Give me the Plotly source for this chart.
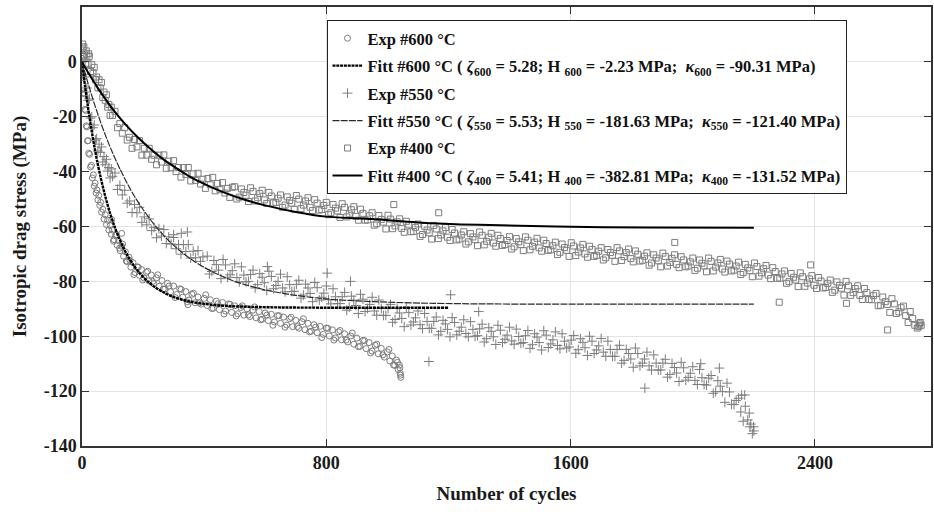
import plotly.graph_objects as go

# ---------------- data ----------------
cycles_600 = [
    0, 2, 4, 6, 8, 10, 12, 14, 16, 18,
    20, 22, 25, 28, 31, 34, 37, 40, 43, 46,
    49, 52, 55, 58, 61, 64, 68, 72, 76, 80,
    84, 88, 92, 96, 100, 105, 110, 115, 120, 125,
    130, 136, 142, 148, 154, 160, 167, 174, 181, 188,
    195, 203, 211, 219, 227, 235, 244, 253, 262, 271,
    280, 290, 300, 310, 320, 330, 340, 350, 360, 370,
    380, 390, 400, 410, 420, 430, 440, 450, 460, 470,
    480, 490, 500, 510, 520, 530, 540, 550, 560, 570,
    580, 590, 600, 610, 620, 630, 640, 650, 660, 670,
    680, 690, 700, 710, 720, 730, 740, 750, 760, 770,
    780, 790, 800, 810, 820, 830, 840, 850, 860, 870,
    880, 890, 900, 910, 920, 930, 940, 950, 960, 970,
    980, 990, 1000, 1008, 1016, 1024, 1030, 1035, 1039, 1042,
    1044, 97, 130, 347, 1043, 1041,
    103, 113, 123, 133, 145, 157, 170, 184, 199, 215,
    231, 248, 266, 285, 305, 325, 345, 365, 385, 405,
    425, 445, 465, 485, 505, 525, 545, 565, 585, 605,
    625, 645, 665, 685, 705, 725, 745, 765, 785, 805,
    825, 845, 865, 885, 905, 925, 945, 965, 985, 1005,
    1020, 1033,
]
stress_600 = [
    1.3, -4.8, -5.7, -11.3, -11.7, -17.3, -17.7, -23.3, -23.7, -28.8,
    -28.7, -33.3, -33.7, -38.3, -37.7, -42.3, -41.2, -45.3, -44.2, -47.8,
    -46.7, -50.3, -48.7, -52.3, -51.2, -54.8, -53.7, -57.3, -55.7, -59.3,
    -57.7, -61.3, -59.7, -62.8, -61.2, -64.8, -63.2, -66.8, -65.2, -68.8,
    -67.2, -70.8, -69.2, -72.8, -71.2, -74.8, -73.2, -76.8, -74.7, -77.8,
    -75.7, -78.8, -76.7, -79.8, -77.7, -80.8, -78.7, -81.8, -79.7, -82.8,
    -80.7, -83.8, -81.7, -84.8, -82.7, -85.8, -83.7, -86.8, -84.7, -87.8,
    -85.7, -88.3, -86.2, -88.8, -86.7, -89.8, -87.2, -90.3, -87.7, -90.8,
    -88.2, -91.3, -88.9, -91.8, -89.5, -92.3, -90.0, -92.8, -90.5, -93.3,
    -91.0, -93.8, -91.5, -94.3, -92.0, -94.8, -92.5, -95.3, -93.0, -95.9,
    -93.6, -96.5, -94.2, -97.1, -94.7, -97.6, -95.3, -98.2, -95.8, -98.7,
    -96.4, -99.3, -97.0, -99.9, -97.7, -100.6, -98.4, -101.3, -99.1, -102.1,
    -99.9, -102.9, -100.7, -103.7, -101.5, -104.5, -102.3, -105.4, -103.3, -106.4,
    -104.4, -107.6, -105.7, -109.0, -107.2, -110.6, -108.7, -112.1, -110.5, -113.5,
    -115.0, -57.5, -62.5, -88.5, -114.2, -111.5,
    -65.3, -63.1, -67.9, -66.4, -72.6, -72.4, -77.5, -74.8, -79.5, -76.3,
    -80.1, -77.6, -82.8, -81.7, -85.9, -82.9, -87.5, -84.3, -87.8, -84.9,
    -89.9, -88.2, -91.9, -88.4, -92.6, -88.9, -92.2, -89.3, -94.0, -92.3,
    -96.0, -92.5, -96.7, -93.1, -96.5, -93.6, -98.4, -96.7, -100.5, -97.1,
    -101.4, -97.9, -101.4, -98.8, -103.8, -101.6, -106.1, -102.9, -106.8, -104.8,
    -110.5, -109.5,
]

cycles_550 = [
    0, 4, 8, 12, 16, 20, 24, 28, 32, 36,
    40, 44, 48, 52, 56, 60, 64, 68, 72, 76,
    80, 84, 88, 92, 96, 100, 108, 116, 124, 132,
    140, 148, 156, 164, 172, 180, 188, 196, 204, 212,
    220, 228, 236, 244, 252, 260, 268, 276, 284, 292,
    300, 308, 316, 324, 332, 340, 348, 356, 364, 372,
    380, 388, 396,
    410, 425, 440, 455, 470, 485, 500, 515, 530, 545,
    560, 575, 590, 605, 620, 635, 650, 665, 680, 695,
    710, 725, 740, 755, 770, 785, 800, 815, 830, 845,
    860, 875, 890, 905, 920, 935, 950, 965, 980, 995,
    1010, 1025, 1040, 1055, 1070, 1085, 1100, 1115, 1130, 1145,
    1160, 1175, 1190, 1205, 1220, 1235, 1250, 1265, 1280, 1295,
    1310, 1325, 1340, 1355, 1370, 1385, 1400, 1415, 1430, 1445,
    1460, 1475, 1490, 1505, 1520, 1535, 1550, 1565, 1580, 1595,
    1610, 1625, 1640, 1655, 1670, 1685, 1700, 1715, 1730, 1745,
    1760, 1775, 1790, 1805, 1820, 1835, 1850, 1865, 1880, 1895,
    1910, 1925, 1940, 1955, 1970, 1985, 2000, 2015, 2030, 2045,
    2060, 2075, 2090, 2105, 2120, 2135, 2150, 2165, 2180, 2195,
    2190, 2200, 2185, 2160, 2170, 1207, 1299, 1136, 1843, 803,
    607, 879, 2087, 2026, 325, 345, 300,
    417, 432, 447, 462, 477, 492, 507, 522, 537, 552,
    567, 582, 597, 612, 627, 642, 657, 672, 687, 702,
    717, 732, 747, 762, 777, 792, 807, 822, 837, 852,
    867, 882, 897, 912, 927, 942, 957, 972, 987, 1002,
    1017, 1032, 1047, 1062, 1077, 1092, 1107, 1122, 1137, 1152,
    1167, 1182, 1197, 1212, 1227, 1242, 1257, 1272, 1287, 1302,
    1317, 1332, 1347, 1362, 1377, 1392, 1407, 1422, 1437, 1452,
    1467, 1482, 1497, 1512, 1527, 1542, 1557, 1572, 1587, 1602,
    1617, 1632, 1647, 1662, 1677, 1692, 1707, 1722, 1737, 1752,
    1767, 1782, 1797, 1812, 1827, 1842, 1857, 1872, 1887, 1902,
    1917, 1932, 1947, 1962, 1977, 1992, 2007, 2022, 2037, 2052,
    2067, 2082, 2097, 2112, 2127, 2142, 2157, 2172, 2187, 2199,
]
stress_550 = [
    0.0, -4.5, -5.5, -11.0, -9.5, -14.0, -13.5, -20.5, -20.0, -24.0,
    -23.0, -28.5, -28.0, -32.5, -30.0, -33.0, -31.0, -36.5, -34.5, -37.5,
    -35.5, -39.8, -38.5, -42.3, -39.0, -41.7, -40.5, -46.5, -45.0, -48.5,
    -46.8, -51.5, -50.7, -54.9, -52.0, -55.0, -53.0, -58.5, -56.5, -59.4,
    -57.2, -61.5, -60.3, -64.1, -60.8, -63.5, -61.1, -66.2, -63.8, -66.4,
    -64.0, -68.1, -66.6, -70.1, -66.6, -69.1, -66.6, -71.5, -69.0, -71.4,
    -68.8, -72.7, -71.1,
    -70.8, -76.4, -73.9, -79.0, -74.0, -77.6, -73.6, -80.2, -77.7, -80.0,
    -75.9, -81.2, -78.5, -83.3, -78.2, -81.5, -77.4, -83.8, -81.2, -83.6,
    -79.6, -85.0, -82.4, -87.4, -82.3, -85.8, -81.7, -88.2, -85.6, -88.1,
    -84.0, -89.4, -86.8, -91.7, -86.5, -89.9, -85.8, -92.3, -89.9, -92.4,
    -88.4, -93.9, -91.5, -96.5, -91.4, -94.8, -90.8, -97.2, -94.6, -97.1,
    -93.0, -98.2, -95.5, -100.2, -95.0, -98.2, -94.0, -100.2, -97.5, -99.8,
    -95.6, -100.9, -98.2, -103.0, -97.8, -101.1, -96.7, -102.9, -100.1, -102.3,
    -97.9, -103.1, -100.3, -105.0, -99.6, -102.8, -98.4, -104.6, -101.8, -103.9,
    -99.7, -104.9, -102.2, -107.0, -101.8, -105.0, -100.8, -107.3, -104.8, -107.3,
    -103.3, -108.8, -106.3, -111.3, -106.3, -109.8, -105.8, -112.3, -109.8, -112.3,
    -108.4, -113.9, -111.4, -116.5, -111.5, -115.0, -111.1, -117.6, -115.1, -117.8,
    -114.3, -120.2, -118.2, -124.1, -120.3, -124.9, -122.6, -131.0, -130.5, -135.5,
    -132.0, -134.5, -128.0, -121.5, -121.4, -84.9, -91.0, -109.2, -118.9, -77.0,
    -74.6, -80.0, -111.6, -110.0, -62.5, -62.0, -63.0,
    -77.3, -72.4, -75.9, -72.0, -78.5, -76.1, -78.6, -74.7, -80.2, -77.5,
    -82.4, -77.2, -80.5, -76.3, -82.7, -80.0, -82.4, -78.3, -83.7, -81.1,
    -86.1, -81.0, -84.4, -80.4, -86.8, -84.3, -86.7, -82.7, -88.1, -85.6,
    -90.5, -85.4, -88.8, -84.7, -91.0, -88.4, -90.8, -86.8, -92.4, -89.9,
    -94.9, -89.9, -93.5, -89.5, -95.9, -93.3, -95.8, -91.7, -97.1, -94.6,
    -99.5, -94.2, -97.5, -93.2, -99.5, -96.7, -99.0, -94.7, -100.0, -97.3,
    -102.1, -96.9, -100.2, -96.0, -102.3, -99.6, -101.7, -97.4, -102.6, -99.8,
    -104.4, -99.1, -102.3, -98.0, -104.1, -101.3, -103.4, -99.1, -104.3, -101.4,
    -106.2, -100.9, -104.2, -100.0, -106.3, -103.5, -105.8, -101.8, -107.3, -104.8,
    -109.8, -104.8, -108.3, -104.3, -110.8, -108.3, -110.8, -106.8, -112.3, -109.8,
    -114.9, -109.9, -113.4, -109.5, -116.0, -113.5, -116.1, -112.1, -117.6, -115.3,
    -120.8, -116.2, -120.2, -117.1, -124.8, -123.4, -127.6, -125.5, -133.0, -133.0,
]

cycles_400 = [
    0, 4, 8, 12, 16, 20, 24, 28, 32, 36,
    40, 44, 48, 52, 56, 60, 64, 68, 72, 76,
    80, 84, 88, 92, 96, 100, 108, 116, 124, 132,
    140, 148, 156, 164, 172, 180, 188, 196, 204, 212,
    220, 228, 236, 244, 252, 260, 268, 276, 284, 292,
    300, 308, 316, 324, 332, 340, 348, 356, 364, 372,
    380, 388, 396, 404, 412, 420, 428, 436, 444, 452,
    460, 468, 476, 484, 492,
    500, 515, 530, 545, 560, 575, 590, 605, 620, 635,
    650, 665, 680, 695, 710, 725, 740, 755, 770, 785,
    800, 815, 830, 845, 860, 875, 890, 905, 920, 935,
    950, 965, 980, 995, 1010, 1025, 1040, 1055, 1070, 1085,
    1100, 1115, 1130, 1145, 1160, 1175, 1190, 1205, 1220, 1235,
    1250, 1265, 1280, 1295, 1310, 1325, 1340, 1355, 1370, 1385,
    1400, 1415, 1430, 1445, 1460, 1475, 1490, 1505, 1520, 1535,
    1550, 1565, 1580, 1595, 1610, 1625, 1640, 1655, 1670, 1685,
    1700, 1715, 1730, 1745, 1760, 1775, 1790, 1805, 1820, 1835,
    1850, 1865, 1880, 1895, 1910, 1925, 1940, 1955, 1970, 1985,
    2000, 2015, 2030, 2045, 2060, 2075, 2090, 2105, 2120, 2135,
    2150, 2165, 2180, 2195, 2210, 2225, 2240, 2255, 2270, 2285,
    2300, 2315, 2330, 2345, 2360, 2375, 2390, 2405, 2420, 2435,
    2450, 2465, 2480, 2495, 2510, 2525, 2540, 2555, 2570, 2585,
    2600, 2615, 2630, 2645, 2660, 2675, 2690, 2705, 2720, 2735,
    2745,
    2, 6, 14, 22, 2740, 2748, 1021, 1168, 1941, 2283,
    2503, 2638, 2386,
    507, 522, 537, 552, 567, 582, 597, 612, 627, 642,
    657, 672, 687, 702, 717, 732, 747, 762, 777, 792,
    807, 822, 837, 852, 867, 882, 897, 912, 927, 942,
    957, 972, 987, 1002, 1017, 1032, 1047, 1062, 1077, 1092,
    1107, 1122, 1137, 1152, 1167, 1182, 1197, 1212, 1227, 1242,
    1257, 1272, 1287, 1302, 1317, 1332, 1347, 1362, 1377, 1392,
    1407, 1422, 1437, 1452, 1467, 1482, 1497, 1512, 1527, 1542,
    1557, 1572, 1587, 1602, 1617, 1632, 1647, 1662, 1677, 1692,
    1707, 1722, 1737, 1752, 1767, 1782, 1797, 1812, 1827, 1842,
    1857, 1872, 1887, 1902, 1917, 1932, 1947, 1962, 1977, 1992,
    2007, 2022, 2037, 2052, 2067, 2082, 2097, 2112, 2127, 2142,
    2157, 2172, 2187, 2202, 2217, 2232, 2247, 2262, 2277, 2292,
    2307, 2322, 2337, 2352, 2367, 2382, 2397, 2412, 2427, 2442,
    2457, 2472, 2487, 2502, 2517, 2532, 2547, 2562, 2577, 2592,
    2607, 2622, 2637, 2652, 2667, 2682, 2697, 2712, 2727, 2742,
]
stress_400 = [
    5.0, 2.0, 2.5, -1.0, 2.5, -0.5, 2.0, -3.5, -1.0, -4.0,
    -2.0, -6.5, -5.5, -9.5, -6.5, -9.5, -7.5, -13.0, -11.0, -14.0,
    -12.0, -16.5, -15.5, -19.5, -16.5, -19.5, -18.0, -24.0, -22.5, -26.0,
    -24.0, -28.5, -27.5, -31.5, -28.3, -31.0, -28.7, -34.0, -31.5, -34.0,
    -31.5, -35.5, -34.0, -37.5, -34.0, -36.5, -33.9, -38.8, -36.2, -38.6,
    -36.0, -40.0, -38.5, -42.0, -38.5, -41.0, -38.5, -43.4, -40.8, -43.2,
    -40.6, -44.5, -42.8, -46.1, -42.5, -44.8, -42.1, -47.0, -44.3, -46.6,
    -44.0, -47.8, -46.1, -49.4, -45.7,
    -45.5, -49.3, -47.6, -50.9, -47.2, -49.5, -46.8, -51.6, -48.9, -51.2,
    -48.5, -52.2, -50.5, -53.7, -50.0, -52.2, -49.5, -54.2, -51.5, -53.8,
    -51.2, -55.0, -53.3, -56.7, -53.0, -55.4, -52.8, -57.7, -55.2, -57.6,
    -55.0, -59.0, -57.4, -60.9, -57.3, -59.8, -57.2, -62.1, -59.4, -61.8,
    -59.1, -62.9, -61.3, -64.6, -60.9, -63.1, -60.4, -65.1, -62.4, -64.6,
    -61.9, -65.6, -63.8, -67.0, -63.2, -65.4, -62.5, -67.2, -64.4, -66.6,
    -63.7, -67.4, -65.6, -68.8, -65.0, -67.2, -64.3, -69.0, -66.2, -68.5,
    -65.7, -69.4, -67.7, -70.9, -67.1, -69.3, -66.5, -71.2, -68.4, -70.5,
    -67.7, -71.4, -69.5, -72.7, -68.9, -71.0, -68.2, -72.9, -70.1, -72.3,
    -69.6, -73.3, -71.5, -74.7, -70.9, -73.1, -70.3, -75.0, -72.2, -74.4,
    -71.5, -75.2, -73.4, -76.5, -72.7, -74.8, -72.0, -76.6, -73.7, -75.9,
    -73.0, -76.8, -75.1, -78.3, -74.6, -76.9, -74.2, -79.0, -76.4, -78.8,
    -76.2, -80.1, -78.5, -81.9, -78.3, -80.6, -77.9, -82.6, -79.9, -82.2,
    -79.5, -83.2, -81.5, -85.0, -81.6, -84.1, -81.6, -86.6, -84.1, -86.7,
    -84.4, -88.7, -87.4, -91.3, -88.2, -91.1, -89.0, -95.0, -93.5, -97.0,
    -95.0,
    6.5, 5.5, 4.0, 3.0, -96.5, -96.0, -52.0, -55.0, -65.8, -87.6,
    -88.0, -97.7, -74.0,
    -50.0, -46.3, -48.6, -45.9, -50.7, -48.0, -50.3, -47.6, -51.4, -49.7,
    -53.0, -49.2, -51.5, -48.7, -53.5, -50.7, -53.0, -50.2, -54.0, -52.3,
    -55.7, -52.0, -54.3, -51.7, -56.5, -53.9, -56.3, -53.7, -57.7, -56.1,
    -59.5, -56.0, -58.4, -55.9, -60.8, -58.3, -60.7, -58.1, -61.9, -60.3,
    -63.6, -59.9, -62.3, -59.6, -64.4, -61.6, -63.9, -61.1, -64.9, -63.1,
    -66.4, -62.6, -64.8, -62.0, -66.7, -63.9, -66.0, -63.2, -66.9, -65.1,
    -68.2, -64.4, -66.6, -63.8, -68.5, -65.7, -67.8, -65.0, -68.7, -67.0,
    -70.2, -66.4, -68.7, -65.9, -70.6, -67.8, -70.0, -67.2, -70.9, -69.0,
    -72.2, -68.4, -70.5, -67.7, -72.4, -69.5, -71.7, -68.9, -72.6, -70.8,
    -74.1, -70.3, -72.5, -69.7, -74.4, -71.6, -73.8, -71.0, -74.7, -72.9,
    -76.0, -72.2, -74.4, -71.5, -76.2, -73.3, -75.5, -72.6, -76.2, -74.4,
    -77.5, -73.8, -76.1, -73.3, -78.1, -75.4, -77.7, -75.0, -78.9, -77.3,
    -80.7, -77.1, -79.5, -76.9, -81.8, -79.1, -81.4, -78.6, -82.4, -80.7,
    -84.0, -80.2, -82.5, -80.0, -85.1, -82.6, -85.1, -82.6, -86.6, -85.2,
    -88.9, -85.7, -88.4, -86.3, -91.7, -89.6, -92.5, -91.0, -96.0, -95.5,
]

fit_cycles_600 = [0, 10, 20, 30, 40, 50, 60, 75, 90, 105, 120, 135, 150, 170,
                  190, 215, 240, 270, 300, 350, 400, 480, 560, 650, 800, 1000, 1200]
fit_stress_600 = [0, -8.9, -16.8, -24.0, -30.5, -36.4, -41.6, -48.5, -54.5, -59.5,
                  -63.9, -67.6, -70.8, -74.3, -77.2, -80.0, -82.2, -84.2, -85.7,
                  -87.3, -88.2, -89.0, -89.3, -89.5, -89.6, -89.6, -89.6]

fit_cycles_550 = [0, 20, 40, 60, 80, 100, 125, 150, 175, 200, 240, 280, 320, 360,
                  400, 450, 500, 560, 620, 700, 800, 900, 1000, 1150, 1300, 1500,
                  1800, 2200]
fit_stress_550 = [0, -7.9, -15.1, -21.7, -27.7, -33.1, -39.2, -44.7, -49.6, -53.8,
                  -59.8, -64.7, -68.8, -72.1, -74.9, -77.7, -80.0, -82.0, -83.6,
                  -85.1, -86.4, -87.1, -87.6, -88.0, -88.2, -88.3, -88.3, -88.3]

fit_cycles_400 = [0, 25, 50, 75, 100, 140, 180, 220, 260, 300, 350, 400, 460, 520,
                  600, 700, 800, 950, 1100, 1300, 1550, 1850, 2200]
fit_stress_400 = [0, -4.8, -9.2, -13.3, -17.1, -22.5, -27.2, -31.3, -35.0, -38.1,
                  -41.6, -44.5, -47.4, -49.8, -52.3, -54.7, -56.4, -57.3, -58.5,
                  -59.4, -60.0, -60.4, -60.5]

x_ticks = [0, 800, 1600, 2400]
y_ticks = [-140, -120, -100, -80, -60, -40, -20, 0, 20]

names = {
    "e600": "Exp #600 °C",
    "f600": "Fitt #600 °C ( <i>ζ</i><sub>600</sub> = 5.28; H <sub>600</sub> = -2.23 MPa;  <i>κ</i><sub>600</sub> = -90.31 MPa)",
    "e550": "Exp #550 °C",
    "f550": "Fitt #550 °C ( <i>ζ</i><sub>550</sub> = 5.53; H <sub>550</sub> = -181.63 MPa;  <i>κ</i><sub>550</sub> = -121.40 MPa)",
    "e400": "Exp #400 °C",
    "f400": "Fitt #400 °C ( <i>ζ</i><sub>400</sub> = 5.41; H <sub>400</sub> = -382.81 MPa;  <i>κ</i><sub>400</sub> = -131.52 MPa)",
}

# ---------------- figure ----------------
GRAY = "#7d7d7d"
FONT = "Liberation Serif"

fig = go.Figure()

fig.add_trace(go.Scatter(
    x=cycles_600, y=stress_600, mode="markers", name=names["e600"],
    legendgroup="g1", legendrank=1,
    marker=dict(symbol="circle-open", size=6, color=GRAY, line=dict(width=1, color=GRAY)),
))
fig.add_trace(go.Scatter(
    x=cycles_550, y=stress_550, mode="markers", name=names["e550"],
    legendgroup="g3", legendrank=3,
    marker=dict(symbol="cross-thin-open", size=7, color=GRAY, line=dict(width=1, color=GRAY)),
))
fig.add_trace(go.Scatter(
    x=cycles_400, y=stress_400, mode="markers", name=names["e400"],
    legendgroup="g5", legendrank=5,
    marker=dict(symbol="square-open", size=6, color=GRAY, line=dict(width=1, color=GRAY)),
))
fig.add_trace(go.Scatter(
    x=fit_cycles_600, y=fit_stress_600, mode="lines", name=names["f600"],
    legendgroup="g2", legendrank=2,
    line=dict(color="#000000", width=2.4, dash="3px,0.8px", shape="spline", smoothing=0.8),
))
fig.add_trace(go.Scatter(
    x=fit_cycles_550, y=fit_stress_550, mode="lines", name=names["f550"],
    legendgroup="g4", legendrank=4,
    line=dict(color="#2a2a2a", width=1.2, dash="7px,1.2px", shape="spline", smoothing=0.8),
))
fig.add_trace(go.Scatter(
    x=fit_cycles_400, y=fit_stress_400, mode="lines", name=names["f400"],
    legendgroup="g6", legendrank=6,
    line=dict(color="#000000", width=2.0, shape="spline", smoothing=0.8),
))

axis_common = dict(
    showline=True, linecolor="#333333", linewidth=1.5, mirror="ticks",
    ticks="inside", ticklen=7, tickwidth=1, tickcolor="#333333",
    showgrid=True, gridcolor="#e4e4e4", gridwidth=1, zeroline=False,
    tickfont=dict(family=FONT, size=18, color="#1a1a1a", weight="bold"),
)

fig.update_layout(
    width=934, height=512,
    margin=dict(l=82, r=1, t=7, b=66),
    paper_bgcolor="white", plot_bgcolor="white",
    showlegend=True,
    legend=dict(
        x=0.288, y=0.9704, xanchor="left", yanchor="top",
        bgcolor="white", bordercolor="#222222", borderwidth=1,
        font=dict(family=FONT, size=16.5, color="#111111", weight="bold"),
        tracegroupgap=3, itemwidth=30, traceorder="grouped",
    ),
    xaxis=dict(
        range=[0, 2780], tickvals=x_ticks, ticktext=[str(v) for v in x_ticks],
        title=dict(text="Number of cycles", standoff=14,
                   font=dict(family=FONT, size=19, color="#1a1a1a", weight="bold")),
        **axis_common,
    ),
    yaxis=dict(
        range=[-140, 20], tickvals=y_ticks, ticktext=[str(v) for v in y_ticks],
        title=dict(text="Isotropic drag stress (MPa)", standoff=12,
                   font=dict(family=FONT, size=19, color="#1a1a1a", weight="bold")),
        **axis_common,
    ),
)

fig.write_html("out.html")
